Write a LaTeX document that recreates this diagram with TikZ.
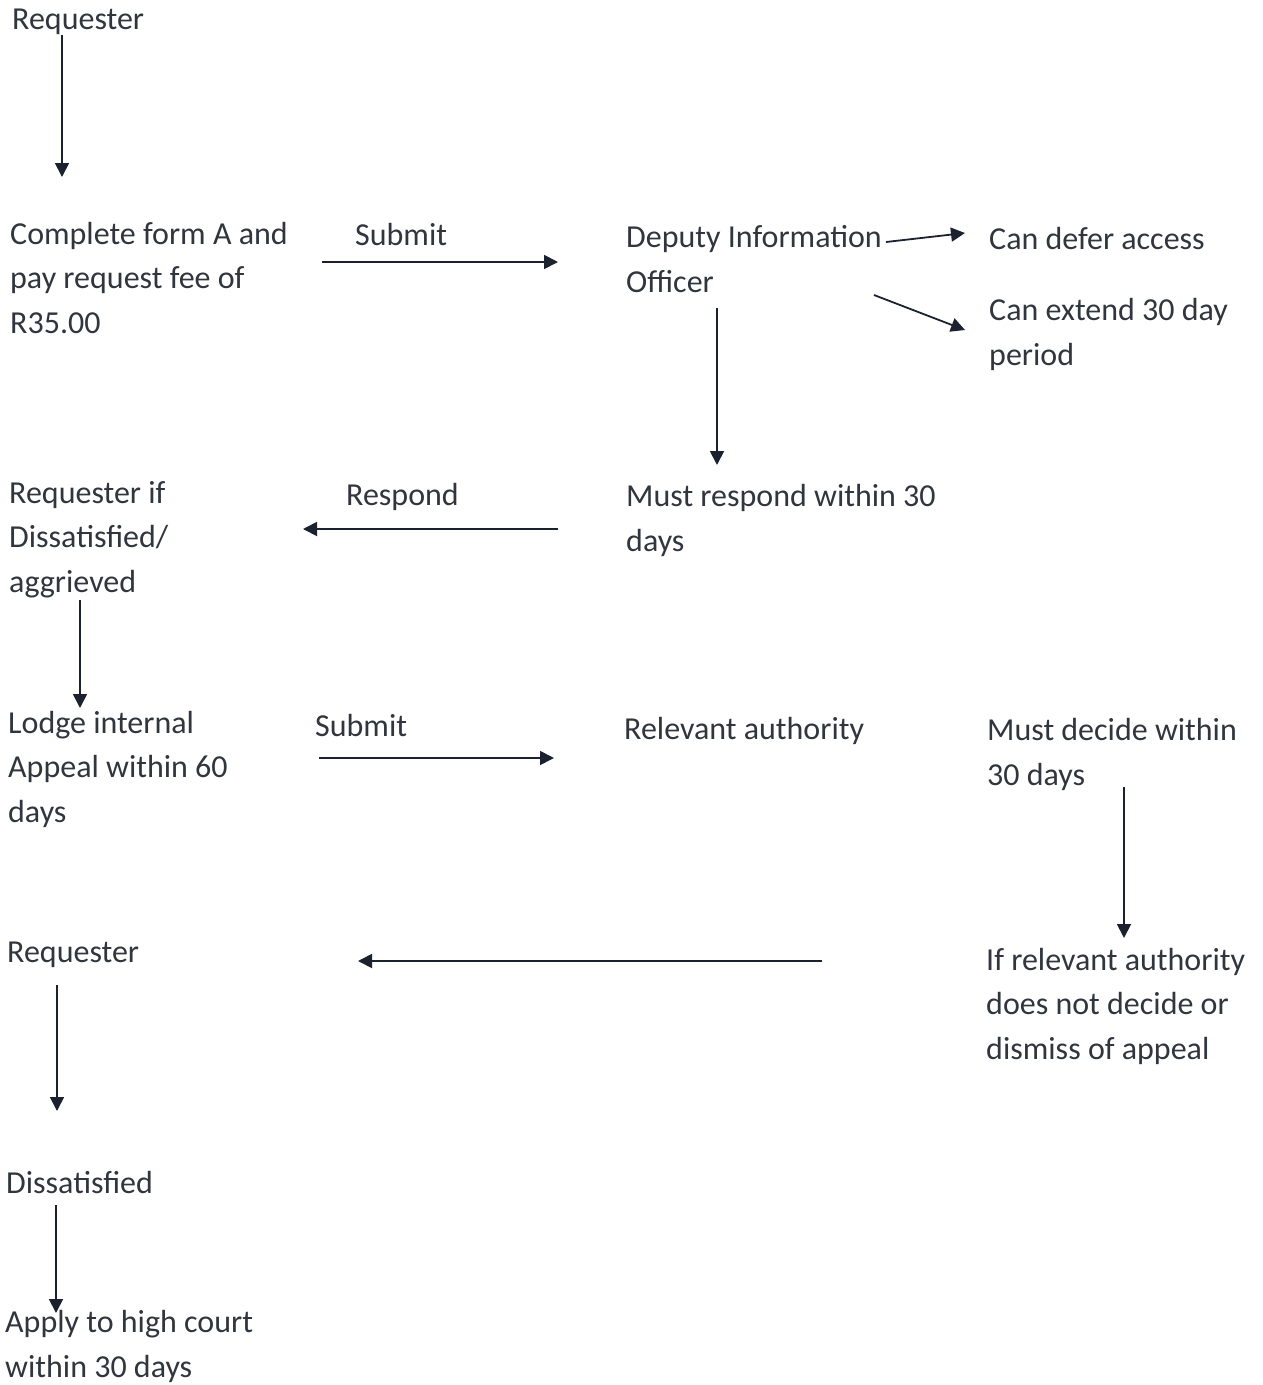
\documentclass[tikz,border=0pt]{standalone}
\usepackage{fontspec}
\setmainfont{Carlito}
\usetikzlibrary{arrows.meta}
\definecolor{inkgray}{RGB}{48,53,62}
\definecolor{linenavy}{RGB}{28,33,48}

\begin{document}
\begin{tikzpicture}[
  x=1pt, y=-1pt,
  every node/.style = {font=\fontsize{32}{44.5}\selectfont, text=inkgray},
  txt/.style = {anchor=base west, align=left, inner sep=0pt},
  go/.style  = {-{Triangle[length=14pt,width=14pt]}, draw=linenavy,
                fill=linenavy, line width=1.8pt},
]
\useasboundingbox (0,0) rectangle (1262,1385);

% multi-line texts sit on the baseline of their last line
% --- request --------------------------------------------------------------
\node[txt] (req)   at (12,29)   {Requester};
\node[txt] (form)  at (10,333)  {Complete form A and\\ pay request fee of\\ R35.00};
\node[txt] (sub1)  at (355,245) {Submit};
\node[txt] (dio)   at (626,292) {Deputy Information\\ Officer};
\node[txt] (defer) at (989,249) {Can defer access};
\node[txt] (ext)   at (989,365) {Can extend 30 day\\ period};

\coordinate (reqA) at (62,35);    \coordinate (reqB) at (62,177);
\coordinate (subA) at (322,262);  \coordinate (subB) at (558,262);
\coordinate (defA) at (886,242);  \coordinate (defB) at (965,233);
\coordinate (extA) at (874,295);  \coordinate (extB) at (965,330);
\coordinate (dioA) at (717,308);  \coordinate (dioB) at (717,465);
\draw[go] (reqA) -- (reqB);
\draw[go] (subA) -- (subB);
\draw[go] (defA) -- (defB);
\draw[go] (extA) -- (extB);
\draw[go] (dioA) -- (dioB);

% --- response and internal appeal ----------------------------------------
\node[txt] (must)  at (626,551) {Must respond within 30\\ days};
\node[txt] (resp)  at (346,505) {Respond};
\node[txt] (agg)   at (9,592)   {Requester if\\ Dissatisfied/\\ aggrieved};
\node[txt] (lodge) at (8,822)   {Lodge internal\\ Appeal within 60\\ days};
\node[txt] (sub2)  at (315,736) {Submit};
\node[txt] (auth)  at (624,739) {Relevant authority};
\node[txt] (dec)   at (987,785) {Must decide within\\ 30 days};

\coordinate (rspA) at (558,529);  \coordinate (rspB) at (303,529);
\coordinate (aggA) at (80,600);   \coordinate (aggB) at (80,708);
\coordinate (apA)  at (319,758);  \coordinate (apB)  at (554,758);
\coordinate (decA) at (1124,787); \coordinate (decB) at (1124,938);
\draw[go] (rspA) -- (rspB);
\draw[go] (aggA) -- (aggB);
\draw[go] (apA) -- (apB);
\draw[go] (decA) -- (decB);

% --- court ----------------------------------------------------------------
\node[txt] (req2)  at (7,962)    {Requester};
\node[txt] (nodec) at (986,1059) {If relevant authority\\ does not decide or\\ dismiss of appeal};
\node[txt] (diss)  at (6,1193)   {Dissatisfied};
\node[txt] (court) at (5,1377)   {Apply to high court\\ within 30 days};

\coordinate (ndA)  at (822,961);  \coordinate (ndB)  at (358,961);
\coordinate (rq2A) at (57,985);   \coordinate (rq2B) at (57,1111);
\coordinate (disA) at (56,1205);  \coordinate (disB) at (56,1313);
\draw[go] (ndA) -- (ndB);
\draw[go] (rq2A) -- (rq2B);
\draw[go] (disA) -- (disB);

\end{tikzpicture}
\end{document}
